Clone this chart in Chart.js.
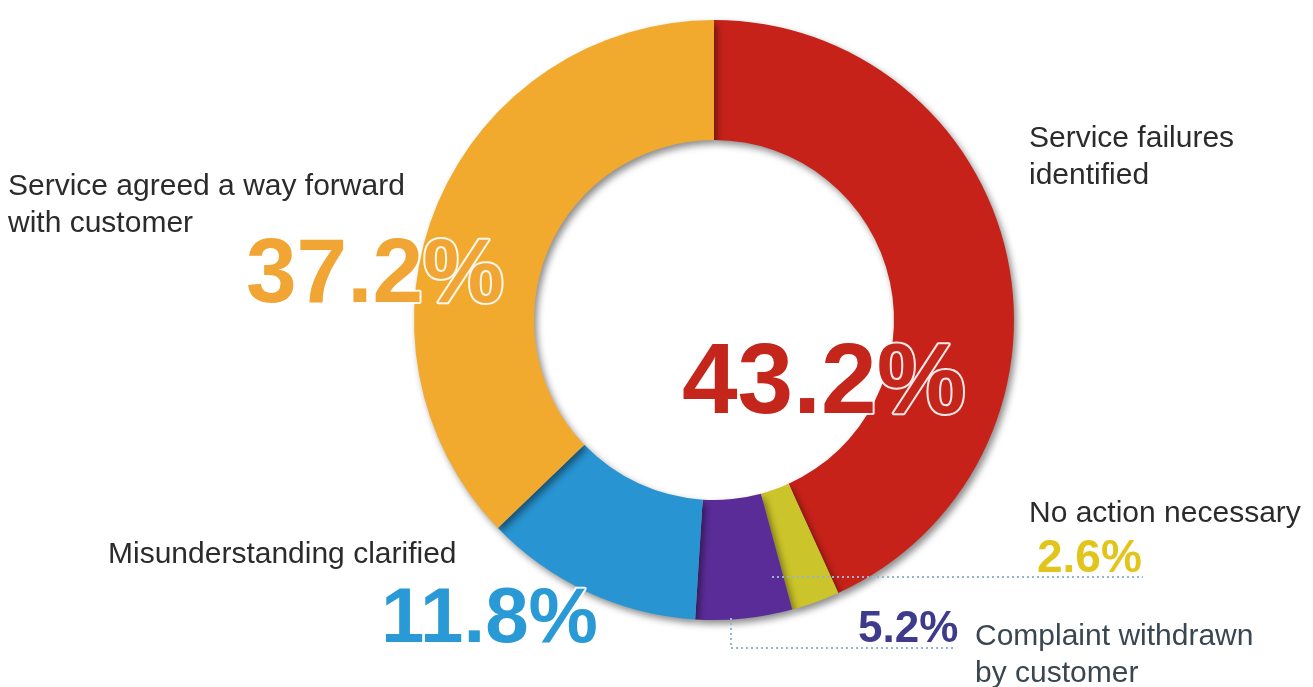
<!DOCTYPE html>
<html>
<head>
<meta charset="utf-8">
<script src="https://cdn.jsdelivr.net/npm/chart.js@4"></script>
<style>
  html, body { margin: 0; padding: 0; background: #ffffff; }
  #myChart { display: block; }
</style>
</head>
<body>
<canvas id="myChart" width="1313" height="687"></canvas>
<script>
const ctx = document.getElementById("myChart");

// categories, clockwise from 12 o'clock
const categories = [
  ["Service failures", "identified"],
  ["No action necessary"],
  ["Complaint withdrawn", "by customer"],
  ["Misunderstanding clarified"],
  ["Service agreed a way forward", "with customer"],
];
const values = [43.2, 2.6, 5.2, 11.8, 37.2];
const sliceColors = ["#c62219", "#cbc42a", "#5a2c98", "#2894d2", "#f2aa2e"];
const textColors = ["#c4261c", "#e2c51c", "#3e3a8c", "#2a9ad6", "#f0a535"];

// where each label goes (name x, name baseline, percent x, percent baseline, percent size)
const labelLayout = [
  { nx: 1029, ny: 147, px: 682, py: 413, ps: 100 },
  { nx: 1029, ny: 522, px: 1037, py: 572, ps: 46 },
  { nx: 975, ny: 645, px: 858, py: 642, ps: 44 },
  { nx: 108, ny: 563, px: 381, py: 642, ps: 78 },
  { nx: 8, ny: 195, px: 246, py: 302, ps: 91 },
];

const shadowPlugin = {
  id: "ringShadow",
  beforeDatasetsDraw(chart) {
    const c = chart.ctx;
    c.save();
    c.shadowColor = "rgba(0,0,0,0.45)";
    c.shadowBlur = 7;
    c.shadowOffsetX = 3;
    c.shadowOffsetY = 4;
  },
  afterDatasetsDraw(chart) {
    chart.ctx.restore();
  },
};

const labelPlugin = {
  id: "sliceLabels",
  afterDraw(chart) {
    const c = chart.ctx;
    c.save();

    // dotted leader lines
    c.strokeStyle = "#93b6cc";
    c.lineWidth = 2;
    c.setLineDash([2, 3]);
    c.beginPath();
    c.moveTo(772, 577);
    c.lineTo(1143, 577);
    c.moveTo(731, 618);
    c.lineTo(731, 648);
    c.lineTo(956, 648);
    c.stroke();
    c.setLineDash([]);

    c.textBaseline = "alphabetic";
    c.textAlign = "left";
    chart.data.labels.forEach((lines, i) => {
      const l = labelLayout[i];
      c.font = "30px 'Liberation Sans', Arial, sans-serif";
      c.fillStyle = i === 2 ? "#3a4650" : "#2b2b2b";
      lines.forEach((line, j) => {
        c.fillText(line, l.nx, l.ny + j * 37);
      });

      const pct = values[i].toFixed(1) + "%";
      c.font = "bold " + l.ps + "px 'Liberation Sans', Arial, sans-serif";
      c.lineJoin = "round";
      c.strokeStyle = "rgba(255,255,255,0.9)";
      c.lineWidth = 4;
      c.strokeText(pct, l.px, l.py);
      c.fillStyle = textColors[i];
      c.fillText(pct, l.px, l.py);
    });
    c.restore();
  },
};

new Chart(ctx, {
  type: "doughnut",
  data: {
    labels: categories,
    datasets: [
      {
        data: values,
        backgroundColor: sliceColors,
        borderWidth: 0,
      },
    ],
  },
  options: {
    responsive: false,
    animation: false,
    cutout: "60%",
    layout: {
      padding: { left: 414, right: 299, top: 20, bottom: 67 },
    },
    plugins: {
      legend: { display: false },
      tooltip: { enabled: false },
    },
  },
  plugins: [shadowPlugin, labelPlugin],
});
</script>
</body>
</html>
